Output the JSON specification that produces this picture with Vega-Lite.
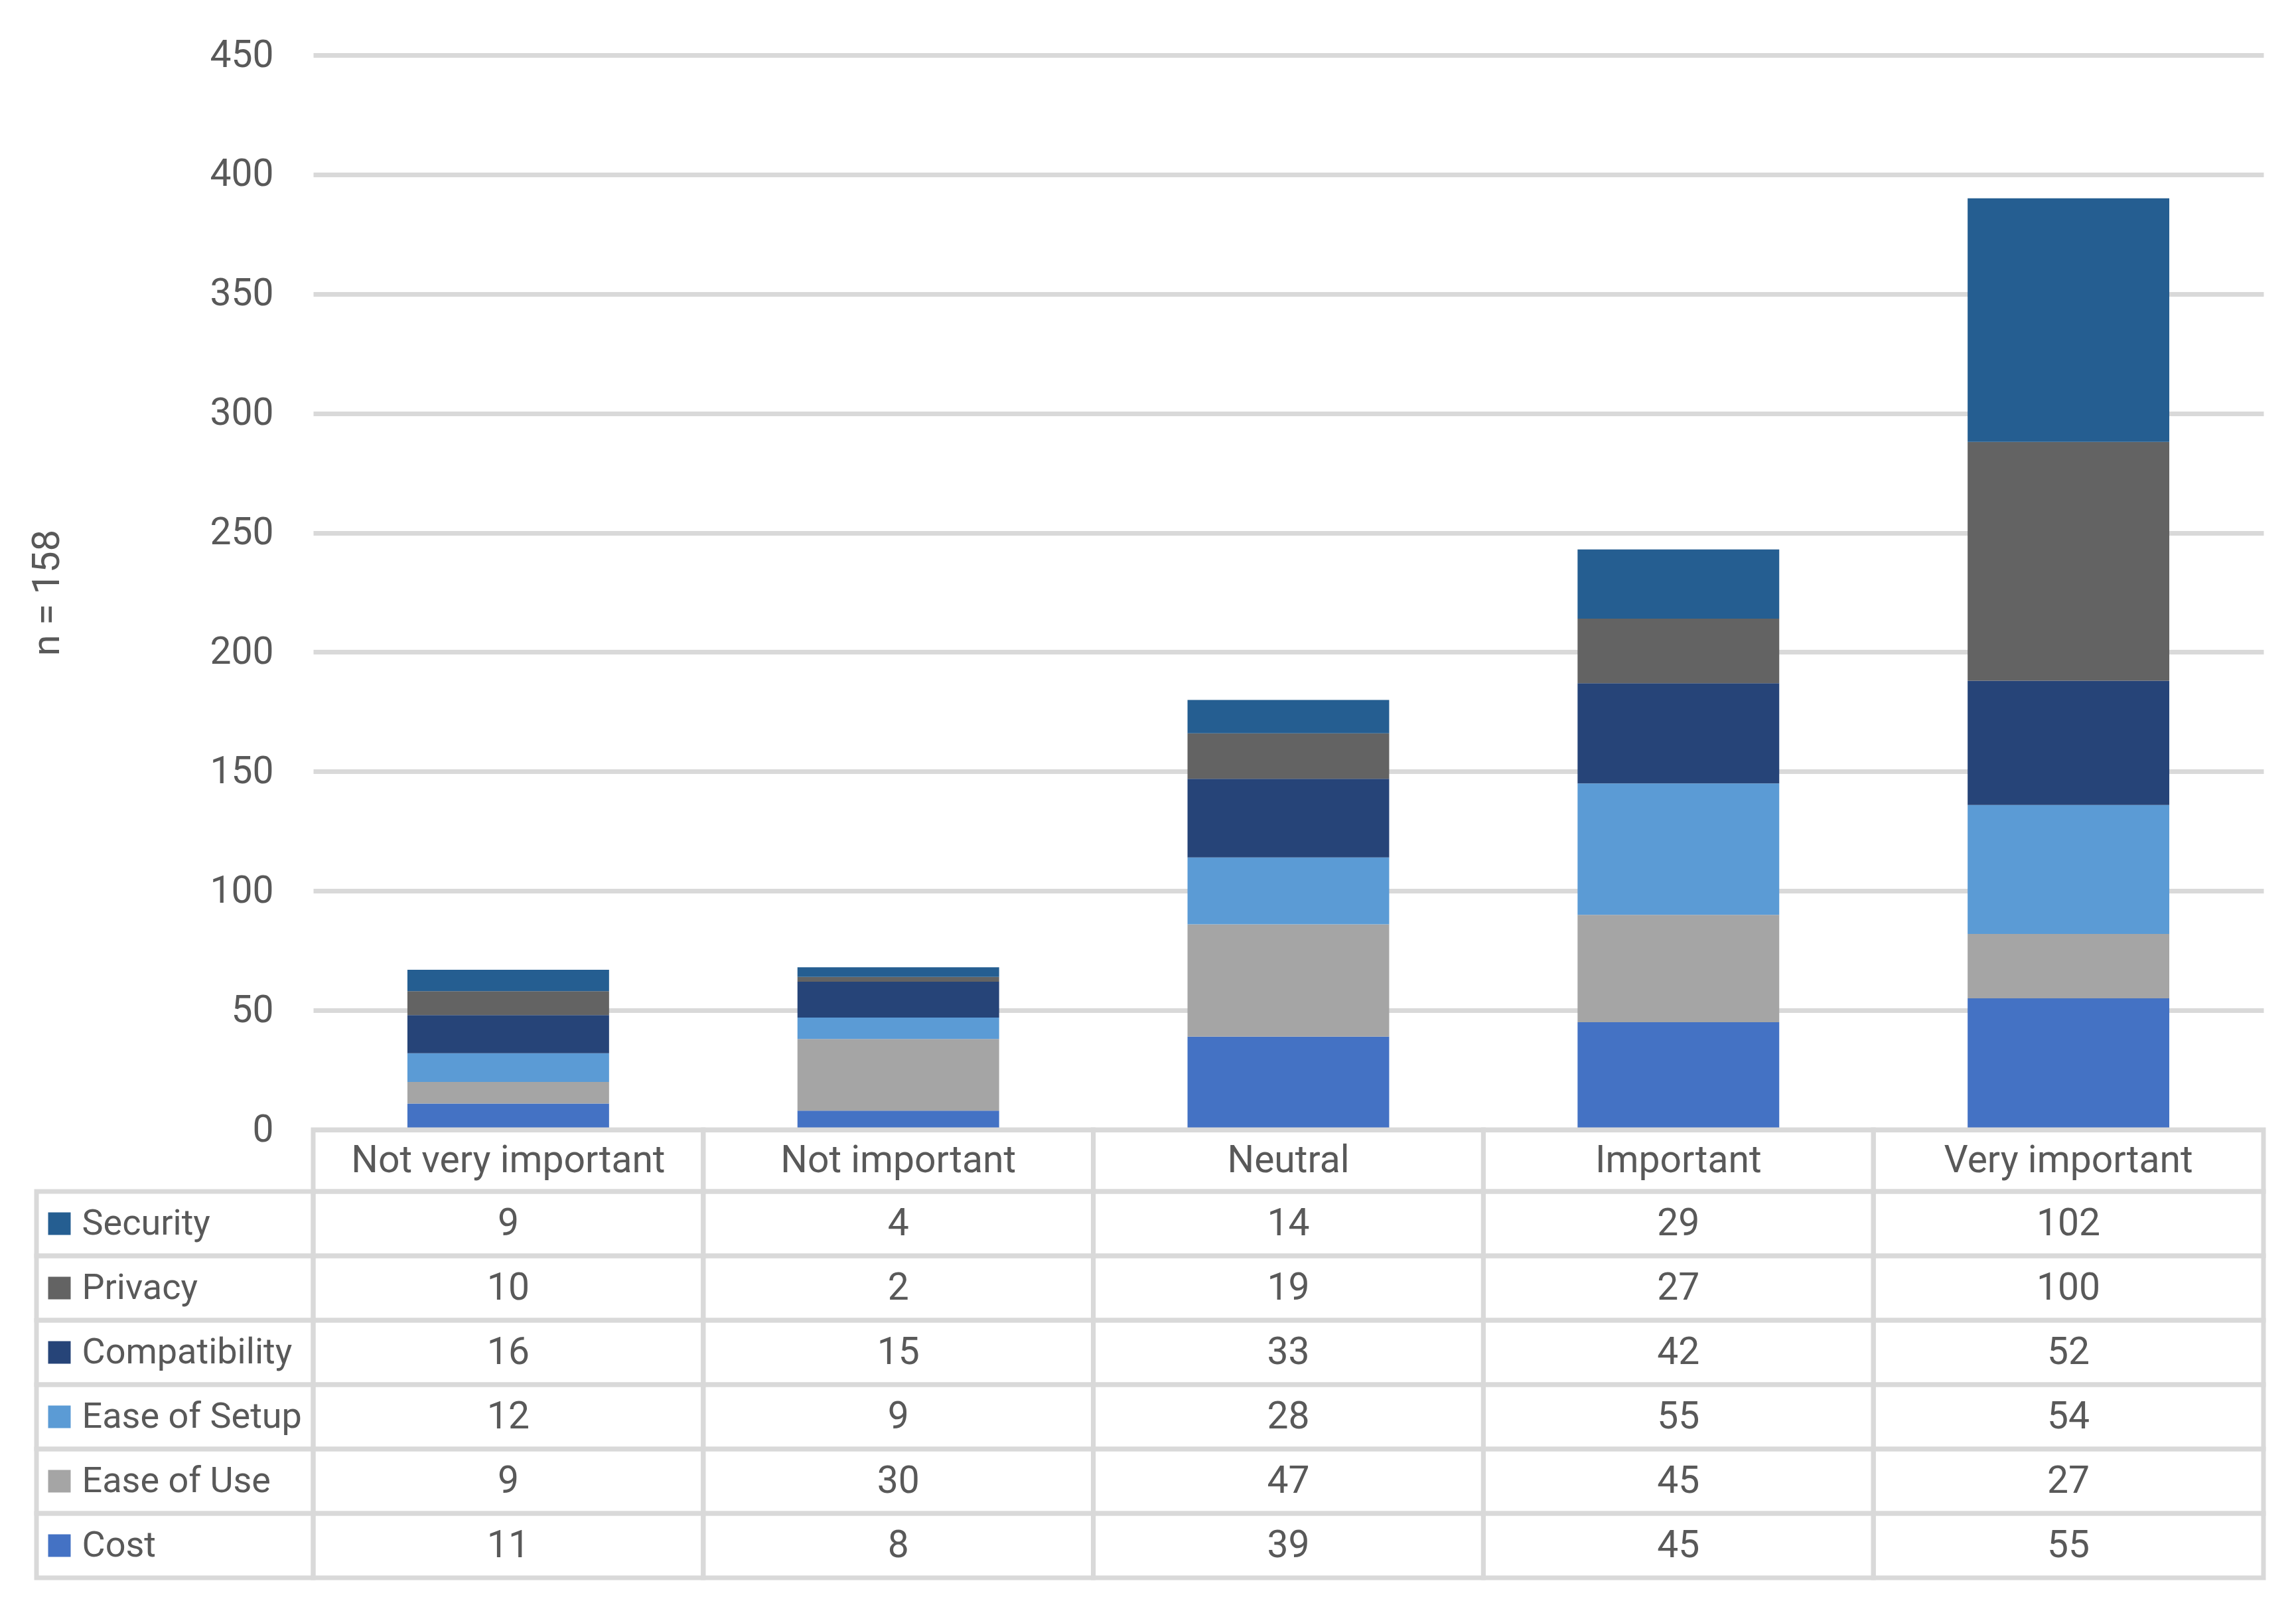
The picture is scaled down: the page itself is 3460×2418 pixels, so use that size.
{
  "$schema": "https://vega.github.io/schema/vega-lite/v6.json",
  "background": "white",
  "padding": {"left": 42, "top": 54, "right": 45, "bottom": 38},
  "config": {"view": {"stroke": null}, "font": "Roboto"},
  "columns": 2,
  "spacing": 0,
  "bounds": "flush",
  "resolve": {"scale": {"x": "independent", "y": "independent"}},
  "datasets": {
    "responses": [
      {"category": "Not very important", "series": "Cost", "value": 11},
      {"category": "Not very important", "series": "Ease of Use", "value": 9},
      {"category": "Not very important", "series": "Ease of Setup", "value": 12},
      {"category": "Not very important", "series": "Compatibility", "value": 16},
      {"category": "Not very important", "series": "Privacy", "value": 10},
      {"category": "Not very important", "series": "Security", "value": 9},
      {"category": "Not important", "series": "Cost", "value": 8},
      {"category": "Not important", "series": "Ease of Use", "value": 30},
      {"category": "Not important", "series": "Ease of Setup", "value": 9},
      {"category": "Not important", "series": "Compatibility", "value": 15},
      {"category": "Not important", "series": "Privacy", "value": 2},
      {"category": "Not important", "series": "Security", "value": 4},
      {"category": "Neutral", "series": "Cost", "value": 39},
      {"category": "Neutral", "series": "Ease of Use", "value": 47},
      {"category": "Neutral", "series": "Ease of Setup", "value": 28},
      {"category": "Neutral", "series": "Compatibility", "value": 33},
      {"category": "Neutral", "series": "Privacy", "value": 19},
      {"category": "Neutral", "series": "Security", "value": 14},
      {"category": "Important", "series": "Cost", "value": 45},
      {"category": "Important", "series": "Ease of Use", "value": 45},
      {"category": "Important", "series": "Ease of Setup", "value": 55},
      {"category": "Important", "series": "Compatibility", "value": 42},
      {"category": "Important", "series": "Privacy", "value": 27},
      {"category": "Important", "series": "Security", "value": 29},
      {"category": "Very important", "series": "Cost", "value": 55},
      {"category": "Very important", "series": "Ease of Use", "value": 27},
      {"category": "Very important", "series": "Ease of Setup", "value": 54},
      {"category": "Very important", "series": "Compatibility", "value": 52},
      {"category": "Very important", "series": "Privacy", "value": 100},
      {"category": "Very important", "series": "Security", "value": 102}
    ]
  },
  "concat": [
    {
      "width": 417,
      "height": 1619,
      "data": {"values": []},
      "mark": "point",
      "encoding": {}
    },
    {
      "width": 2939,
      "height": 1619,
      "data": {"name": "responses"},
      "transform": [
        {"window": [{"op": "row_number", "as": "stack_order"}], "groupby": ["category"]}
      ],
      "mark": {"type": "bar"},
      "encoding": {
        "x": {
          "field": "category",
          "type": "nominal",
          "sort": ["Not very important", "Not important", "Neutral", "Important", "Very important"],
          "scale": {"paddingInner": 0.483, "paddingOuter": 0.2415},
          "axis": null
        },
        "y": {
          "field": "value",
          "type": "quantitative",
          "stack": "zero",
          "scale": {"domain": [0, 450], "nice": false},
          "axis": {
            "values": [0, 50, 100, 150, 200, 250, 300, 350, 400, 450],
            "domain": false,
            "ticks": false,
            "tickSize": 0,
            "grid": true,
            "gridColor": "#D9D9D9",
            "gridWidth": 7,
            "labelPadding": 60,
            "labelFont": "Roboto",
            "labelFontSize": 57,
            "labelColor": "#595959",
            "title": "n = 158",
            "titleFont": "Roboto",
            "titleFontSize": 58,
            "titleFontWeight": "normal",
            "titleColor": "#595959",
            "titlePadding": 215
          }
        },
        "color": {
          "field": "series",
          "type": "nominal",
          "scale": {
            "domain": ["Cost", "Ease of Use", "Ease of Setup", "Compatibility", "Privacy", "Security"],
            "range": ["#4472C4", "#A5A5A5", "#5B9BD5", "#264478", "#636363", "#255E91"]
          },
          "legend": null
        },
        "order": {"field": "stack_order", "type": "quantitative", "sort": "ascending"}
      }
    },
    {
      "width": 417,
      "height": 93,
      "data": {"values": []},
      "mark": "point",
      "encoding": {}
    },
    {
      "width": 2939,
      "height": 93,
      "data": {"name": "responses"},
      "transform": [{"aggregate": [{"op": "count", "as": "n"}], "groupby": ["category"]}],
      "encoding": {
        "x": {
          "field": "category",
          "type": "nominal",
          "sort": ["Not very important", "Not important", "Neutral", "Important", "Very important"],
          "scale": {"paddingInner": 0, "paddingOuter": 0},
          "axis": null
        }
      },
      "layer": [
        {"mark": {"type": "rect", "filled": false, "stroke": "#D9D9D9", "strokeWidth": 7}},
        {
          "mark": {"type": "text", "font": "Roboto", "fontSize": 57, "color": "#595959", "baseline": "middle"},
          "encoding": {"text": {"field": "category", "type": "nominal"}}
        }
      ]
    },
    {
      "width": 417,
      "height": 582,
      "data": {"name": "responses"},
      "transform": [{"aggregate": [{"op": "count", "as": "n"}], "groupby": ["series"]}],
      "mark": {"type": "rect", "filled": false, "stroke": "#D9D9D9", "strokeWidth": 7},
      "encoding": {
        "y": {
          "field": "series",
          "type": "nominal",
          "sort": ["Security", "Privacy", "Compatibility", "Ease of Setup", "Ease of Use", "Cost"],
          "scale": {"paddingInner": 0, "paddingOuter": 0},
          "axis": {
            "orient": "right",
            "offset": -400,
            "domain": false,
            "grid": false,
            "ticks": true,
            "tickSize": 34,
            "tickWidth": 34,
            "tickColor": {
              "condition": [
                {"test": "datum.value === 'Security'", "value": "#255E91"},
                {"test": "datum.value === 'Privacy'", "value": "#636363"},
                {"test": "datum.value === 'Compatibility'", "value": "#264478"},
                {"test": "datum.value === 'Ease of Setup'", "value": "#5B9BD5"},
                {"test": "datum.value === 'Ease of Use'", "value": "#A5A5A5"}
              ],
              "value": "#4472C4"
            },
            "labelPadding": 17,
            "labelAlign": "left",
            "labelFont": "Roboto",
            "labelFontSize": 54,
            "labelColor": "#595959",
            "labelLimit": 400,
            "labelOverlap": false,
            "title": null
          }
        }
      }
    },
    {
      "width": 2939,
      "height": 582,
      "data": {"name": "responses"},
      "encoding": {
        "x": {
          "field": "category",
          "type": "nominal",
          "sort": ["Not very important", "Not important", "Neutral", "Important", "Very important"],
          "scale": {"paddingInner": 0, "paddingOuter": 0},
          "axis": null
        },
        "y": {
          "field": "series",
          "type": "nominal",
          "sort": ["Security", "Privacy", "Compatibility", "Ease of Setup", "Ease of Use", "Cost"],
          "scale": {"paddingInner": 0, "paddingOuter": 0},
          "axis": null
        }
      },
      "layer": [
        {"mark": {"type": "rect", "filled": false, "stroke": "#D9D9D9", "strokeWidth": 7}},
        {
          "mark": {"type": "text", "font": "Roboto", "fontSize": 57, "color": "#595959", "baseline": "middle"},
          "encoding": {"text": {"field": "value", "type": "quantitative"}}
        }
      ]
    }
  ]
}
